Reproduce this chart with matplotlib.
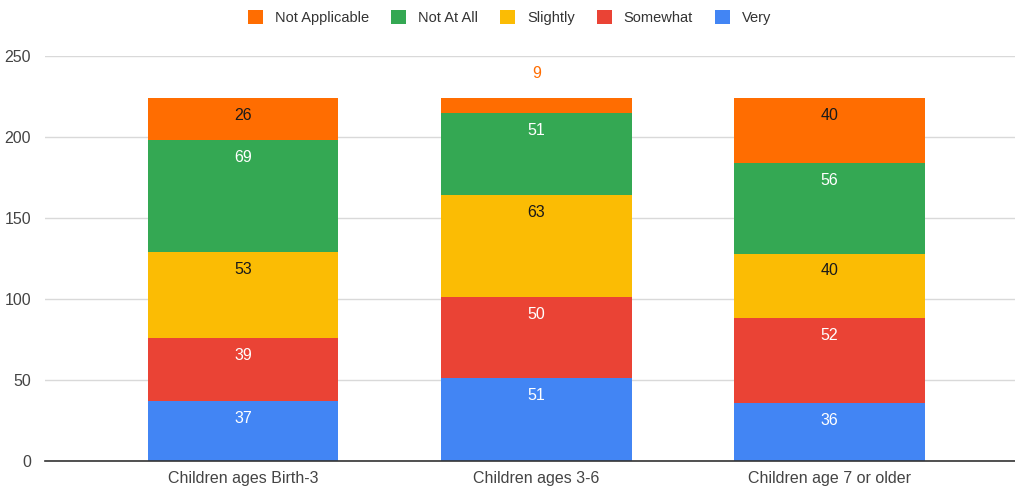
import matplotlib.pyplot as plt
from matplotlib.patches import Patch

plt.rcParams['font.family'] = ['Liberation Sans', 'DejaVu Sans']

groups = ['Children ages Birth-3', 'Children ages 3-6', 'Children age 7 or older']
levels = ['Very', 'Somewhat', 'Slightly', 'Not At All', 'Not Applicable']
counts = {
    'Very': [37, 51, 36],
    'Somewhat': [39, 50, 52],
    'Slightly': [53, 63, 40],
    'Not At All': [69, 51, 56],
    'Not Applicable': [26, 9, 40],
}
colors = {
    'Very': '#4285F4',
    'Somewhat': '#EA4335',
    'Slightly': '#FBBC04',
    'Not At All': '#34A853',
    'Not Applicable': '#FF6D01',
}
label_colors = {
    'Very': 'white',
    'Somewhat': 'white',
    'Slightly': '#1a1a1a',
    'Not At All': 'white',
    'Not Applicable': '#1a1a1a',
}

fig = plt.figure(figsize=(10.15, 4.88), dpi=100)
ax = fig.add_axes([0.0443, 0.0553, 0.9557, 0.8300])

x = list(range(len(groups)))
bottom = [0] * len(groups)
for lvl in levels:
    vals = counts[lvl]
    ax.bar(x, vals, 0.65, bottom=bottom, color=colors[lvl], zorder=2)
    for i, v in enumerate(vals):
        top = bottom[i] + v
        if v < 12:
            # segment too thin, put the number above the bar
            ax.annotate(str(v), (x[i], top), xytext=(0, 18), textcoords='offset points',
                        ha='center', va='center', fontsize=11.5, color=colors[lvl])
        else:
            ax.annotate(str(v), (x[i], top), xytext=(0, -12.5), textcoords='offset points',
                        ha='center', va='center', fontsize=11.5, color=label_colors[lvl])
    bottom = [b + v for b, v in zip(bottom, vals)]

ax.set_xlim(-0.676, 2.633)
ax.set_ylim(0, 250)
ax.set_yticks([0, 50, 100, 150, 200, 250])
ax.set_xticks(x)
ax.set_xticklabels(groups)
ax.yaxis.grid(True, color='#d9d9d9', linewidth=1, zorder=0)
ax.set_axisbelow(True)
for s in ['top', 'right', 'left']:
    ax.spines[s].set_visible(False)
ax.spines['bottom'].set_color('#333333')
ax.spines['bottom'].set_linewidth(1.2)
ax.tick_params(axis='both', length=0, labelsize=11.5, colors='#444444')
ax.tick_params(axis='y', pad=10)
ax.tick_params(axis='x', pad=7)

handles = [Patch(facecolor=colors[l], label=l) for l in levels[::-1]]
fig.legend(handles=handles, loc='center', bbox_to_anchor=(0.502, 0.964), ncol=5,
           frameon=False, fontsize=10.5, handlelength=1.05, handleheight=1.05,
           handletextpad=0.8, columnspacing=1.5, labelcolor='#333333')

fig.savefig('out.png', dpi=100)
